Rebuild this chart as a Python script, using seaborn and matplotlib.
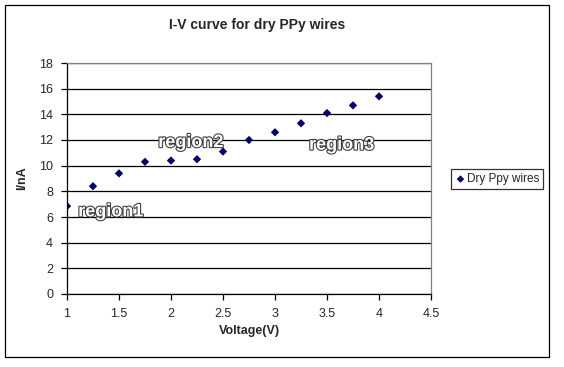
import pandas as pd
import seaborn as sns
import matplotlib.pyplot as plt
import matplotlib.patheffects as pe
from matplotlib.patches import Rectangle

# values
voltage = [1.0, 1.25, 1.5, 1.75, 2.0, 2.25, 2.5, 2.75, 3.0, 3.25, 3.5, 3.75, 4.0]
current = [6.85, 8.4, 9.4, 10.3, 10.4, 10.5, 11.1, 12.0, 12.6, 13.3, 14.1, 14.7, 15.4]
region_names = ['region1', 'region2', 'region3']
region_x = [1.42, 2.19, 3.64]
region_y = [6.4, 11.8, 11.6]

df = pd.DataFrame({'Voltage(V)': voltage, 'I/nA': current})

sns.set_style('white')
plt.rcParams['font.family'] = ['Liberation Sans', 'DejaVu Sans']

fig = plt.figure(figsize=(5.64, 3.67), dpi=100)
ax = fig.add_axes([67 / 564, 1 - 294 / 367, (431 - 67) / 564, (294 - 63) / 367])

sns.scatterplot(data=df, x='Voltage(V)', y='I/nA', ax=ax, marker='D', s=18,
                color='#000066', edgecolor='none', label='Dry Ppy wires')

ax.set_xlim(1, 4.5)
ax.set_ylim(0, 18)
ax.set_xticks([1, 1.5, 2, 2.5, 3, 3.5, 4, 4.5])
ax.set_xticklabels(['1', '1.5', '2', '2.5', '3', '3.5', '4', '4.5'])
ax.set_yticks(range(0, 19, 2))
ax.yaxis.grid(True, color='black', linewidth=0.9)
ax.set_axisbelow(True)
ax.tick_params(axis='both', labelsize=9, direction='out', length=4, width=0.9,
               color='black', bottom=True, left=True, pad=6)
for side in ['left', 'bottom']:
    ax.spines[side].set_color('black')
    ax.spines[side].set_linewidth(0.9)
for side in ['top', 'right']:
    ax.spines[side].set_color('#808080')
    ax.spines[side].set_linewidth(0.9)

ax.set_xlabel('Voltage(V)', fontsize=9, fontweight='bold', labelpad=4)
ax.set_ylabel('I/nA', fontsize=9, fontweight='bold', labelpad=8)
fig.text(257 / 564, 1 - 25 / 367, 'I-V curve for dry PPy wires',
         ha='center', va='center', fontsize=10, fontweight='bold')

for name, rx, ry in zip(region_names, region_x, region_y):
    ax.text(rx, ry, name, ha='center', va='center', fontsize=13, fontweight='bold',
            color='white',
            path_effects=[pe.withStroke(linewidth=1.6, foreground='#404040')])

leg = ax.legend(loc='center left', bbox_to_anchor=(1.055, 0.497), frameon=True,
                fontsize=8.5, handletextpad=0.1, borderpad=0.35, markerscale=0.9,
                fancybox=False, handlelength=0.9, borderaxespad=0)
leg.get_frame().set_edgecolor('black')
leg.get_frame().set_linewidth(0.9)

fig.patches.append(Rectangle((5 / 564, 1 - 357 / 367), (549 - 5) / 564, (357 - 5) / 367,
                             transform=fig.transFigure, fill=False,
                             edgecolor='black', linewidth=0.9))

fig.savefig('out.png', dpi=100)
